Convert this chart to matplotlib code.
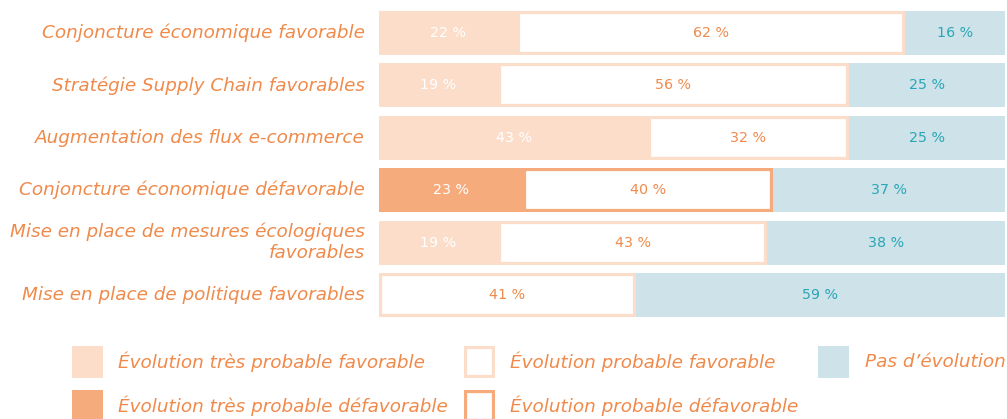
import matplotlib.pyplot as plt
from matplotlib.patches import Rectangle
import numpy as np

categories = [
    "Conjoncture économique favorable",
    "Stratégie Supply Chain favorables",
    "Augmentation des flux e-commerce",
    "Conjoncture économique défavorable",
    "Mise en place de mesures écologiques\nfavorables",
    "Mise en place de politique favorables",
]
tres_prob_fav = [22, 19, 43, 0, 19, 0]
tres_prob_def = [0, 0, 0, 23, 0, 0]
prob_fav = [62, 56, 32, 0, 43, 41]
prob_def = [0, 0, 0, 40, 0, 0]
pas_evol = [16, 25, 25, 37, 38, 59]

legend_labels = [
    "Évolution très probable favorable",
    "Évolution très probable défavorable",
    "Évolution probable favorable",
    "Évolution probable défavorable",
    "Pas d’évolution",
]

PEACH = "#fbddc9"
ORANGE = "#f5ab7b"
BLUE = "#cde3e9"
TXT_OR = "#f08a4b"
TXT_BL = "#2aa6b6"

FONT = "DejaVu Sans"
FS = 13.2
W, H = 1007, 419
fig = plt.figure(figsize=(W / 100, H / 100), dpi=100)
ax = fig.add_axes([379 / W, 1 - 317 / H, (1005 - 379) / W, (317 - 11) / H])

series = [
    (tres_prob_fav, PEACH, "none", "white"),
    (tres_prob_def, ORANGE, "none", "white"),
    (prob_fav, "white", PEACH, TXT_OR),
    (prob_def, "white", ORANGE, TXT_OR),
    (pas_evol, BLUE, "none", TXT_BL),
]

y = np.arange(len(categories))
h = 0.84
left = np.zeros(len(categories))
for vals, face, edge, tc in series:
    vals = np.array(vals, dtype=float)
    bars = ax.barh(y, vals, left=left, height=h, color=face,
                   edgecolor=edge, linewidth=4.5 if edge != "none" else 0)
    for b, v, l, yy in zip(bars, vals, left, y):
        b.set_clip_path(b)  # keep the border inside the box
        if v > 0:
            ax.text(l + v / 2, yy, f"{int(v)} %", ha="center", va="center",
                    color=tc, fontsize=10.3, family=FONT)
    left += vals

ax.set_xlim(0, 100)
ax.set_ylim(len(categories) - 1 + h / 2, -h / 2)
ax.set_yticks(y)
ax.set_yticklabels(categories, fontsize=FS, color=TXT_OR, style="italic",
                   family=FONT, va="center")
ax.tick_params(axis="y", length=0, pad=10)
ax.set_xticks([])
for s in ax.spines.values():
    s.set_visible(False)

# legend drawn by hand
cols = [(72, 118), (464, 510), (818, 865)]
rows = [346, 390]
leg_styles = [(PEACH, "none"), (ORANGE, "none"), ("white", PEACH),
              ("white", ORANGE), (BLUE, "none")]
for i, (lab, (face, edge)) in enumerate(zip(legend_labels, leg_styles)):
    c, r = divmod(i, 2)
    bx, tx = cols[c]
    top = rows[r]
    rect = Rectangle((bx / W, 1 - (top + 32) / H), 31 / W, 32 / H,
                     transform=fig.transFigure, facecolor=face, edgecolor=edge,
                     linewidth=4.5 if edge != "none" else 0)
    fig.add_artist(rect)
    rect.set_clip_path(rect)
    fig.text(tx / W, 1 - (top + 16) / H, lab, ha="left", va="center",
             fontsize=FS, color=TXT_OR, style="italic", family=FONT)

fig.savefig("out.png", dpi=100)
